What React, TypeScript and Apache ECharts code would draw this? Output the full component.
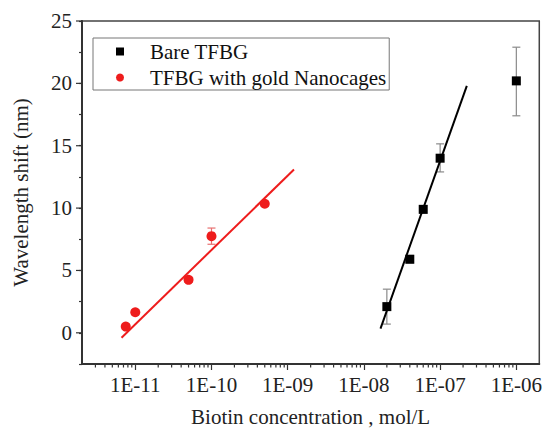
import React, { useEffect, useRef } from 'react';
import * as echarts from 'echarts';

// Data
const bareName = 'Bare TFBG';
const goldName = 'TFBG with gold Nanocages';

const bareX = [2e-8, 4e-8, 6e-8, 1e-7, 1e-6];
const bareY = [2.1, 5.9, 9.9, 14.0, 20.2];
const bareErrLow = [0.7, 5.6, 9.6, 12.9, 17.4];
const bareErrHigh = [3.5, 6.2, 10.2, 15.15, 22.9];

const goldX = [7.5e-12, 1e-11, 5e-11, 1e-10, 5e-10];
const goldY = [0.5, 1.65, 4.25, 7.75, 10.35];
const goldErrLow = [0.3, 1.45, 4.05, 7.1, 10.15];
const goldErrHigh = [0.7, 1.85, 4.45, 8.4, 10.55];

const bareFitX = [1.65e-8, 2.24e-7];
const bareFitY = [0.34, 19.8];
const goldFitX = [6.6e-12, 1.21e-9];
const goldFitY = [-0.4, 13.1];

// Axis settings
const xMin = 2e-12;
const xMax = 2e-6;
const yMin = -2.5;
const yMax = 25;
const yMajorTicks = [0, 5, 10, 15, 20, 25];
const minorMultipliers = [2, 3, 4, 5, 6, 7, 8, 9];
const minorDecades = [-12, -11, -10, -9, -8, -7, -6];

const FONT = "'Liberation Serif', 'Times New Roman', serif";
const RED = '#ee1c1c';
const AXIS = '#333';

export default function App() {
  const ref = useRef<HTMLDivElement>(null);
  useEffect(() => {
    if (!ref.current) return;
    const chart = echarts.init(ref.current, undefined, { renderer: 'svg' });

    const xMinorTicks: number[] = [];
    minorDecades.forEach((d) => {
      minorMultipliers.forEach((m) => {
        const v = m * Math.pow(10, d);
        if (v > xMin * 1.01 && v < xMax * 0.99) xMinorTicks.push(v);
      });
    });

    const errRender = (color: string) => (params: any, api: any) => {
      const x = api.value(0);
      const lo = api.coord([x, api.value(1)]);
      const hi = api.coord([x, api.value(2)]);
      const cw = 4;
      const style = { stroke: color, lineWidth: 1.2 };
      return {
        type: 'group',
        children: [
          { type: 'line', shape: { x1: lo[0], y1: lo[1], x2: hi[0], y2: hi[1] }, style },
          { type: 'line', shape: { x1: lo[0] - cw, y1: lo[1], x2: lo[0] + cw, y2: lo[1] }, style },
          { type: 'line', shape: { x1: hi[0] - cw, y1: hi[1], x2: hi[0] + cw, y2: hi[1] }, style },
        ],
      };
    };

    const option: any = {
      animation: false,
      backgroundColor: '#fff',
      textStyle: { fontFamily: FONT },
      grid: {
        left: 82,
        top: 21,
        right: 3,
        bottom: 65,
        show: true,
        borderColor: '#444',
        borderWidth: 1.5,
        backgroundColor: 'transparent',
      },
      legend: {
        data: [
          { name: bareName, icon: 'rect' },
          { name: goldName, icon: 'circle' },
        ],
        orient: 'vertical',
        left: 93,
        top: 38,
        itemWidth: 8,
        itemHeight: 8,
        itemGap: 5,
        padding: [3, 3, 2, 23],
        borderColor: '#777',
        borderWidth: 1,
        backgroundColor: '#fff',
        selectedMode: false,
        formatter: (n: string) => `{s| }{t|${n}}`,
        textStyle: {
          fontSize: 21,
          fontFamily: FONT,
          color: '#111',
          rich: {
            s: { width: 21, fontSize: 21, fontFamily: FONT },
            t: { fontSize: 21, fontFamily: FONT, color: '#111' },
          },
        },
      },
      xAxis: {
        type: 'log',
        logBase: 10,
        min: xMin,
        max: xMax,
        name: 'Biotin concentration , mol/L',
        nameLocation: 'middle',
        nameGap: 42,
        nameTextStyle: { fontSize: 21, fontFamily: FONT, color: '#222' },
        axisLine: { onZero: false, lineStyle: { color: AXIS, width: 2 } },
        axisTick: { show: true, inside: false, length: 6, lineStyle: { color: AXIS, width: 1.2 } },
        axisLabel: {
          showMinLabel: false,
          showMaxLabel: false,
          margin: 10,
          fontSize: 21,
          fontFamily: FONT,
          color: '#222',
          formatter: (v: number) => {
            const e = Math.round(Math.log10(v));
            const s = String(Math.abs(e)).padStart(2, '0');
            return `1E${e < 0 ? '-' : '+'}${s}`;
          },
        },
        splitLine: { show: false },
        minorTick: { show: false },
      },
      yAxis: {
        type: 'value',
        min: yMin,
        max: yMax,
        interval: 2.5,
        name: 'Wavelength shift (nm)',
        nameLocation: 'middle',
        nameGap: 51,
        nameTextStyle: { fontSize: 21, fontFamily: FONT, color: '#222' },
        axisLine: { show: true, onZero: false, lineStyle: { color: AXIS, width: 2 } },
        axisTick: { show: true, inside: false, length: 3, lineStyle: { color: AXIS, width: 1.2 } },
        axisLabel: {
          margin: 10,
          fontSize: 21,
          fontFamily: FONT,
          color: '#222',
          formatter: (v: number) => (v >= 0 && Math.abs(v % 5) < 1e-9 ? String(v) : ''),
        },
        splitLine: { show: false },
      },
      series: [
        {
          type: 'custom',
          name: 'xMinorTicks',
          silent: true,
          clip: false,
          data: xMinorTicks.map((v) => [v, yMin]),
          encode: { x: 0, y: 1 },
          renderItem: (params: any, api: any) => {
            const p = api.coord([api.value(0), api.value(1)]);
            return {
              type: 'line',
              shape: { x1: p[0], y1: p[1], x2: p[0], y2: p[1] + 3.5 },
              style: { stroke: AXIS, lineWidth: 1.2 },
            };
          },
          z: 1,
        },
        {
          type: 'custom',
          name: 'yMajorTicks',
          silent: true,
          clip: false,
          data: yMajorTicks.map((v) => [xMin, v]),
          encode: { x: 0, y: 1 },
          renderItem: (params: any, api: any) => {
            const p = api.coord([api.value(0), api.value(1)]);
            return {
              type: 'line',
              shape: { x1: p[0] - 6, y1: p[1], x2: p[0], y2: p[1] },
              style: { stroke: AXIS, lineWidth: 1.2 },
            };
          },
          z: 1,
        },
        {
          type: 'custom',
          name: 'bareErr',
          silent: true,
          data: bareX.map((x, i) => [x, bareErrLow[i], bareErrHigh[i]]),
          encode: { x: 0, y: [1, 2] },
          renderItem: errRender('#8a8a8a'),
          z: 2,
        },
        {
          type: 'custom',
          name: 'goldErr',
          silent: true,
          data: goldX.map((x, i) => [x, goldErrLow[i], goldErrHigh[i]]),
          encode: { x: 0, y: [1, 2] },
          renderItem: errRender('#e87070'),
          z: 2,
        },
        {
          type: 'line',
          name: 'bareFit',
          data: bareFitX.map((x, i) => [x, bareFitY[i]]),
          showSymbol: false,
          symbol: 'none',
          lineStyle: { color: '#000', width: 2 },
          silent: true,
          z: 3,
        },
        {
          type: 'line',
          name: 'goldFit',
          data: goldFitX.map((x, i) => [x, goldFitY[i]]),
          showSymbol: false,
          symbol: 'none',
          lineStyle: { color: RED, width: 2 },
          silent: true,
          z: 3,
        },
        {
          type: 'scatter',
          name: bareName,
          data: bareX.map((x, i) => [x, bareY[i]]),
          symbol: 'rect',
          symbolSize: 9,
          itemStyle: { color: '#000', opacity: 1 },
          z: 4,
        },
        {
          type: 'scatter',
          name: goldName,
          data: goldX.map((x, i) => [x, goldY[i]]),
          symbol: 'circle',
          symbolSize: 10,
          itemStyle: { color: RED, opacity: 1 },
          z: 4,
        },
      ],
    };
    chart.setOption(option);
    return () => chart.dispose();
  }, []);
  return (
    <div
      ref={ref}
      style={{ position: 'fixed', left: 0, top: 0, width: 545, height: 432, background: '#fff' }}
    />
  );
}
